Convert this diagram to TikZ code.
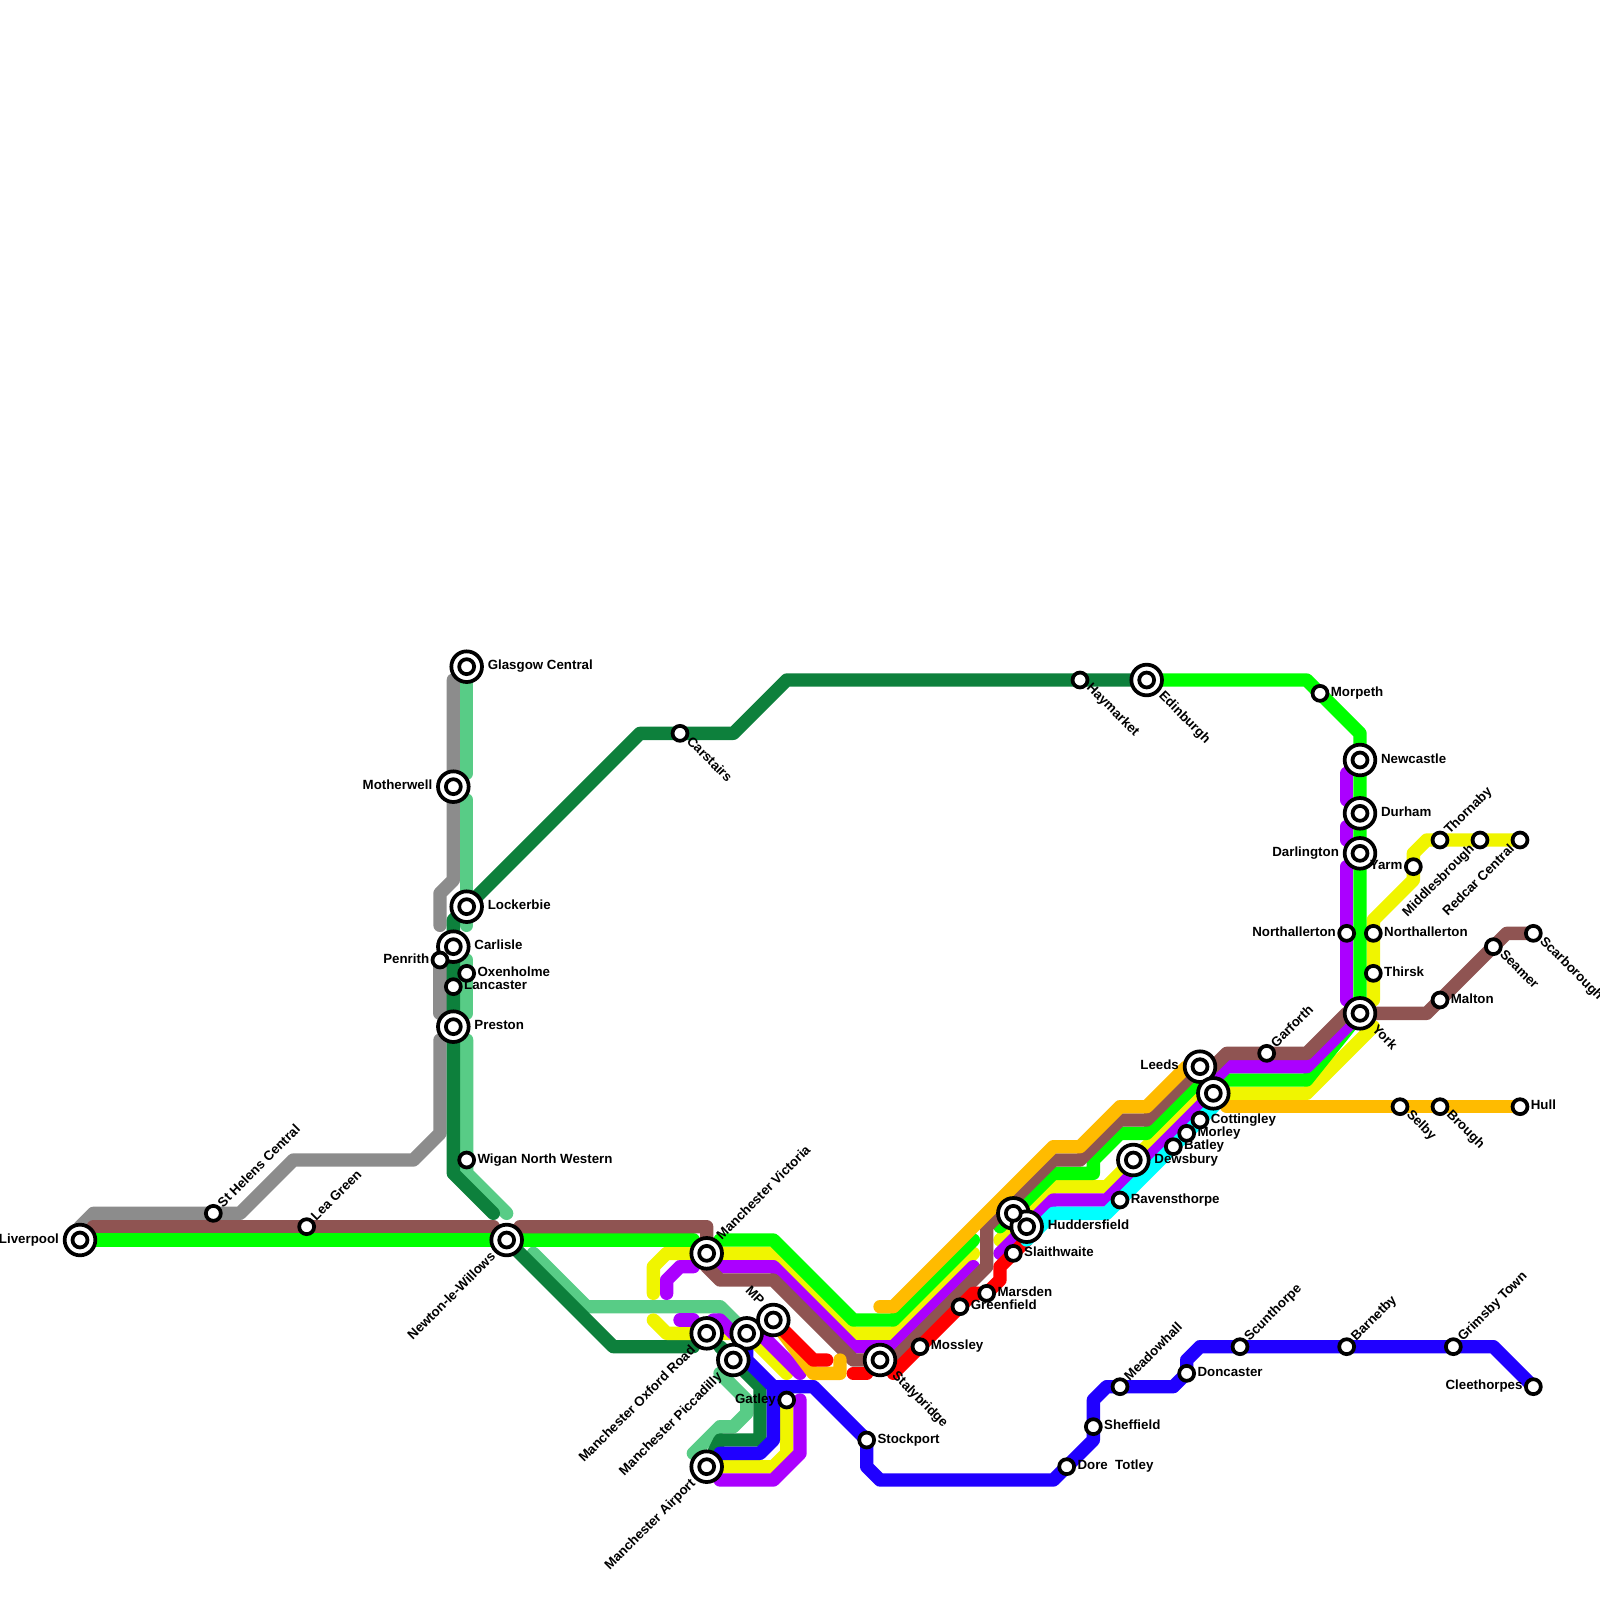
\documentclass[tikz,border=0pt]{standalone}
\usepackage{fontspec}
\setmainfont{Liberation Sans}
\usetikzlibrary{backgrounds}
\definecolor{ngreen}{RGB}{0,255,0}
\definecolor{dkgreen}{RGB}{13,128,60}
\definecolor{ltgreen}{RGB}{88,204,134}
\definecolor{brownl}{RGB}{143,84,82}
\definecolor{greyl}{RGB}{140,140,140}
\definecolor{purplel}{RGB}{171,0,255}
\definecolor{yellowl}{RGB}{240,245,0}
\definecolor{orangel}{RGB}{255,187,0}
\definecolor{redl}{RGB}{255,0,0}
\definecolor{cyanl}{RGB}{0,255,255}
\definecolor{bluel}{RGB}{32,0,255}
\newcommand{\lblfont}{\fontsize{14.2}{16}\selectfont\bfseries}
\begin{document}
\begin{tikzpicture}[
    x=.5cm, y=-.5cm,
    route/.style={line width=.5cm, line cap=round, line join=round},
    stn/.style={circle, draw=black, fill=white, line width=.14cm, minimum size=.56cm, inner sep=0pt},
    hub/.style={circle, draw=black, fill=white, line width=.14cm, minimum size=1.15cm, inner sep=0pt},
    txt/.style={font=\lblfont, text height=.82em, text depth=.18em, inner sep=0pt, text=black},
    lblr/.style={label={[txt, anchor=west]0:#1}},
    lbll/.style={label={[txt, anchor=east]180:#1}},
    lblru/.style={label={[txt, text height=.95em, text depth=.05em, anchor=west, rotate=45]45:#1}},
    lblrd/.style={label={[txt, text height=.6em, text depth=.4em, anchor=west, rotate=-45]-45:#1}},
    lblld/.style={label={[txt, text height=.75em, text depth=.25em, anchor=east, rotate=45]225:#1}},
    lbllu/.style={label={[txt, anchor=east, rotate=-45]135:#1}},
]
\useasboundingbox (0,0) rectangle (120,120);
% interchanges
\begin{scope}[label distance=.14cm]
\node[hub, lbll=Liverpool] (liverpool) at (6,93) {};
\node[hub, lblr=Glasgow Central] (glasgow) at (35,50) {};
\node[hub, lbll=Motherwell] (motherwell) at (34,59) {};
\node[hub, lblr=Lockerbie] (lockerbie) at (35,68) {};
\node[hub, lblr=Carlisle] (carlisle) at (34,71) {};
\node[hub, lblr=Preston] (preston) at (34,77) {};
\node[hub, lblld=Newton-le-Willows] (newton) at (38,93) {};
\node[hub, lblru=Manchester Victoria] (victoria) at (53,94) {};
\node[hub, lblld=Manchester Oxford Road] (oxfordroad) at (53,100) {};
\node[hub, lblld=MP] (mpone) at (56,100) {};
\node[hub, lbllu=MP] (mptwo) at (58,99) {};
\node[hub, lblld=Manchester Piccadilly] (piccadilly) at (55,102) {};
\node[hub, lblld=Manchester Airport] (airport) at (53,110) {};
\node[hub, lblrd=Stalybridge] (stalybridge) at (66,102) {};
\node[hub, lblrd=Edinburgh] (edinburgh) at (86,51) {};
\node[hub, lblr=Newcastle] (newcastle) at (102,57) {};
\node[hub, lblr=Durham] (durham) at (102,61) {};
\node[hub, lbll=Darlington] (darlington) at (102,64) {};
\node[hub, lblrd=York] (york) at (102,76) {};
\node[hub, lbll=Leeds] (leeds) at (90,80) {};
\node[hub] (leedstwo) at (91,82) {};
\node[hub, lblr=Dewsbury] (dewsbury) at (85,87) {};
\node[hub] (marsdenjn) at (76,91) {};
\node[hub, lblr=Huddersfield] (huddersfield) at (77,92) {};
\end{scope}
\foreach \hubname in {liverpool,glasgow,motherwell,lockerbie,carlisle,preston,newton,victoria,oxfordroad,mpone,mptwo,piccadilly,airport,stalybridge,edinburgh,newcastle,durham,darlington,york,leeds,leedstwo,dewsbury,marsdenjn,huddersfield}
    \node[stn] (\hubname inner) at (\hubname) {};
% stops
\begin{scope}[label distance=.05cm]
\node[stn, lblru=St Helens Central] (sthelens) at (16,91) {};
\node[stn, lblru=Lea Green] (leagreen) at (23,92) {};
\node[stn, lblr=Wigan North Western] (wigan) at (35,87) {};
\node[stn, lblr=Oxenholme] (oxenholme) at (35,73) {};
\node[stn, lblr=Lancaster] (lancaster) at (34,74) {};
\node[stn, lbll=Penrith] (penrith) at (33,72) {};
\node[stn, lblrd=Carstairs] (carstairs) at (51,55) {};
\node[stn, lblrd=Haymarket] (haymarket) at (81,51) {};
\node[stn, lblr=Morpeth] (morpeth) at (99,52) {};
\node[stn, lbll=Yarm] (yarm) at (106,65) {};
\node[stn, lblru=Thornaby] (thornaby) at (108,63) {};
\node[stn, lblld=Middlesbrough] (middlesbrough) at (111,63) {};
\node[stn, lblld=Redcar Central] (redcar) at (114,63) {};
\node[stn, lbll=Northallerton] (northallertonw) at (101,70) {};
\node[stn, lblr=Northallerton] (northallertone) at (103,70) {};
\node[stn, lblr=Thirsk] (thirsk) at (103,73) {};
\node[stn, lblr=Malton] (malton) at (108,75) {};
\node[stn, lblrd=Seamer] (seamer) at (112,71) {};
\node[stn, lblrd=Scarborough] (scarborough) at (115,70) {};
\node[stn, lblru=Garforth] (garforth) at (95,79) {};
\node[stn, lblr=Cottingley] (cottingley) at (90,84) {};
\node[stn, lblr=Morley] (morley) at (89,85) {};
\node[stn, lblr=Batley] (batley) at (88,86) {};
\node[stn, lblr=Ravensthorpe] (ravensthorpe) at (84,90) {};
\node[stn, lblr=Slaithwaite] (slaithwaite) at (76,94) {};
\node[stn, lblr=Marsden] (marsden) at (74,97) {};
\node[stn, lblr=Greenfield] (greenfield) at (72,98) {};
\node[stn, lblr=Mossley] (mossley) at (69,101) {};
\node[stn, lblr=Stockport] (stockport) at (65,108) {};
\node[stn, lbll=Gatley] (gatley) at (59,105) {};
\node[stn, lblrd=Selby] (selby) at (105,83) {};
\node[stn, lblrd=Brough] (brough) at (108,83) {};
\node[stn, lblr=Hull] (hull) at (114,83) {};
\node[stn, lblru=Scunthorpe] (scunthorpe) at (93,101) {};
\node[stn, lblru=Barnetby] (barnetby) at (101,101) {};
\node[stn, lblru=Grimsby Town] (grimsby) at (109,101) {};
\node[stn, lbll=Cleethorpes] (cleethorpes) at (115,104) {};
\node[stn, lblr=Doncaster] (doncaster) at (89,103) {};
\node[stn, lblru=Meadowhall] (meadowhall) at (84,104) {};
\node[stn, lblr=Sheffield] (sheffield) at (82,107) {};
\node[stn, lblr=Dore\ \ Totley] (dore) at (80,110) {};
\end{scope}
\begin{scope}[on background layer]
% grey
\draw[route, greyl] (liverpool.center) -- (6,92) -- (7,91) -- (sthelens.center) -- (18,91) -- (22,87) -- (31,87) -- (33,85) -- (33,78);
\draw[route, greyl] (penrith.center) -- (33,76);
\draw[route, greyl] (34,51) -- (motherwell.center) -- (34,66) -- (33,67) -- (33,69.4);
% light green
\draw[route, ltgreen] (glasgow.center) -- (35,58);
\draw[route, ltgreen] (35,60) -- (lockerbie.center) -- (35,69.4);
\draw[route, ltgreen] (35,72) -- (oxenholme.center) -- (35,76);
\draw[route, ltgreen] (35,78) -- (wigan.center) -- (35,88) -- (38,91);
\draw[route, ltgreen] (40,94) -- (44,98) -- (54,98) -- (mpone.center);
\draw[route, ltgreen] (54,103) -- (56,105) -- (56,106) -- (55,107) -- (54,107) -- (52,109);
% dark green
\draw[route, dkgreen] (edinburgh.center) -- (59,51) -- (55,55) -- (48,55) -- (lockerbie.center) -- (34,69) -- (34,88) -- (37,91);
\draw[route, dkgreen] (newton.center) -- (46,101) -- (52,101);
\draw[route, dkgreen] (54,101) -- (piccadilly.center) -- (57,104) -- (57,108) -- (54,108) -- (airport.center);
% yellow
\draw[route, yellowl] (49,97) -- (49,95) -- (50,94) -- (victoria.center) -- (58,94) -- (64,100) -- (67,100) -- (73,94);
\draw[route, yellowl] (103,77) -- (98,82) -- (90,82) -- (83,89) -- (79,89) -- (75,93);
\draw[route, yellowl] (redcar.center) -- (107,63) -- (106,64) -- (106,66) -- (103,69) -- (103,75);
\draw[route, yellowl] (49,99) -- (50,100) -- (mpone.center) -- (59,103);
\draw[route, yellowl] (airport.center) -- (58,110) -- (59,109) -- (gatley.center);
% bright green
\draw[route, ngreen] (liverpool.center) -- (newton.center) -- (52,93);
\draw[route, ngreen] (54,93) -- (58,93) -- (64,99) -- (67,99) -- (73,93);
\draw[route, ngreen] (edinburgh.center) -- (98,51) -- (102,55) -- (york.center) -- (98,81) -- (90,81) -- (86,85) -- (84,85) -- (82,87) -- (82,88) -- (79,88) -- (75,92);
% purple
\draw[route, purplel] (50,97) -- (50,96) -- (51,95) -- (52,95);
\draw[route, purplel] (54,95) -- (58,95) -- (64,101) -- (67,101) -- (73,95);
\draw[route, purplel] (york.center) -- (98,80) -- (92,80) -- (91,81) -- (leedstwo.center) -- (83,90) -- (79,90) -- (75,94);
\draw[route, purplel] (51,99) -- (52,99);
\draw[route, purplel] (53.5,99) -- (54,99) -- (55,100) -- (57,100) -- (60,103);
\draw[route, purplel] (54,111) -- (58,111) -- (60,109) -- (60,105);
\draw[route, purplel] (101,58) -- (101,60);
\draw[route, purplel] (101,62) -- (101,63);
\draw[route, purplel] (101,65) -- (101,75);
% brown
\draw[route, brownl] (7,92) -- (37,92);
\draw[route, brownl] (39,92) -- (53,92) -- (53,95) -- (54,96) -- (58,96) -- (64,102) -- (stalybridge.center) -- (67,102) -- (74,95) -- (74,92) -- (79,87) -- (81,87) -- (84,84) -- (86,84) -- (leeds.center) -- (91,80) -- (92,79) -- (garforth.center) -- (98,79) -- (101,76) -- (york.center) -- (107,76) -- (113,70) -- (scarborough.center);
% orange
\draw[route, orangel] (66,98) -- (67,98) -- (79,86) -- (81,86) -- (84,83) -- (86,83) -- (89,80);
\draw[route, orangel] (92,83) -- (hull.center);
\draw[route, orangel] (mptwo.center) -- (61,103) -- (63,103) -- (63,102);
% red
\draw[route, redl] (mptwo.center) -- (61,102) -- (62,102);
\draw[route, redl] (64,103) -- (65,103);
\draw[route, redl] (67,103) -- (73,97) -- (marsden.center) -- (75,96) -- (75,95) -- (77,93) -- (huddersfield.center);
% cyan
\draw[route, cyanl] (91,83) -- (83,91) -- (79,91) -- (77,93);
% blue
\draw[route, bluel] (56,101) -- (56,102) -- (57,103) -- (58,104) -- (58,108) -- (57,109) -- (54,109);
\draw[route, bluel] (58,104) -- (61,104) -- (stockport.center) -- (65,110) -- (66,111) -- (79,111) -- (82,108) -- (82,105) -- (83,104) -- (88,104) -- (89,103) -- (89,102) -- (90,101) -- (112,101) -- (cleethorpes.center);
\end{scope}
\end{tikzpicture}
\end{document}
